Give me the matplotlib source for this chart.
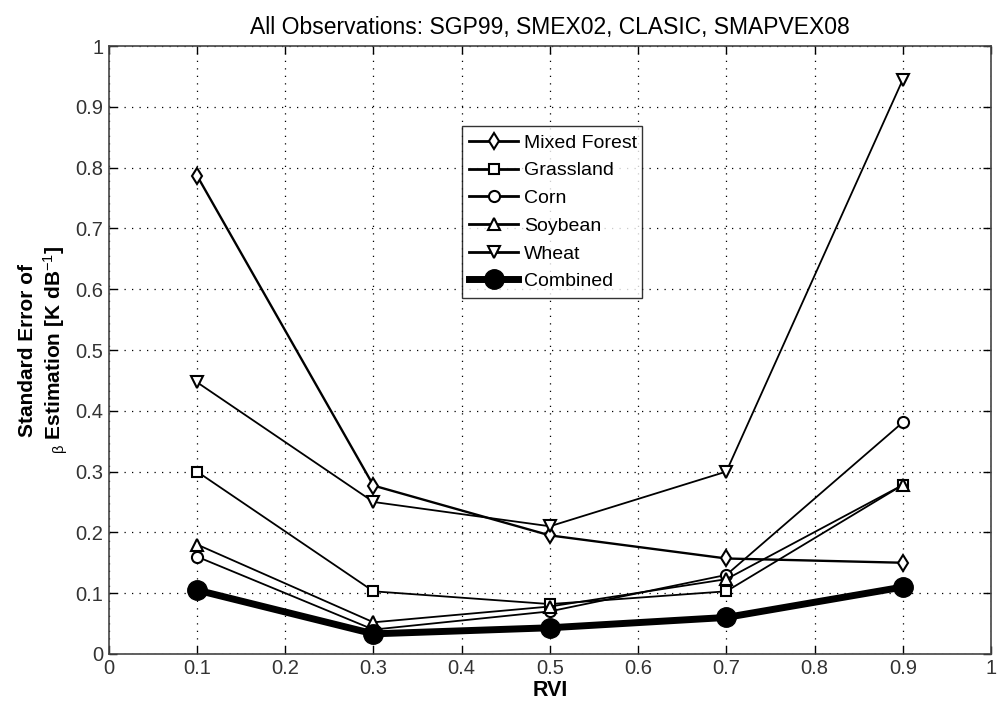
import numpy as np
import matplotlib.pyplot as plt

plt.rcParams['font.family'] = ['Liberation Sans', 'DejaVu Sans']
plt.rcParams['mathtext.fontset'] = 'custom'
plt.rcParams['mathtext.rm'] = 'Liberation Sans'
plt.rcParams['mathtext.it'] = 'Liberation Sans'
plt.rcParams['mathtext.bf'] = 'Liberation Sans:bold'

rvi = [0.1, 0.3, 0.5, 0.7, 0.9]
mixed_forest = [0.787, 0.277, 0.195, 0.157, 0.150]
grassland = [0.300, 0.103, 0.082, 0.103, 0.278]
corn = [0.160, 0.040, 0.070, 0.130, 0.381]
soybean = [0.180, 0.052, 0.078, 0.123, 0.278]
wheat = [0.447, 0.250, 0.210, 0.300, 0.945]
combined = [0.105, 0.033, 0.043, 0.060, 0.110]
ticks = ['0', '0.1', '0.2', '0.3', '0.4', '0.5', '0.6', '0.7', '0.8', '0.9', '1']

fig = plt.figure(figsize=(9.98, 7.1), dpi=100)
ax = fig.add_axes([0.109, 0.079, 0.884, 0.856])

mk = dict(color='k', markerfacecolor='white', markeredgecolor='k', markeredgewidth=1.5, markersize=8)
ax.plot(rvi, mixed_forest, marker='d', lw=1.7, label='Mixed Forest', **mk)
ax.plot(rvi, grassland, marker='s', lw=1.3, label='Grassland', **dict(mk, markersize=7))
ax.plot(rvi, corn, marker='o', lw=1.3, label='Corn', **mk)
ax.plot(rvi, soybean, marker='^', lw=1.3, label='Soybean', **dict(mk, markersize=9))
ax.plot(rvi, wheat, marker='v', lw=1.3, label='Wheat', **dict(mk, markersize=9))
ax.plot(rvi, combined, marker='o', lw=5, color='k', markerfacecolor='k',
        markeredgecolor='k', markersize=14, label='Combined')

ax.set_xlim(0, 1)
ax.set_ylim(0, 1)
ax.set_xticks(np.arange(0, 1.01, 0.1))
ax.set_yticks(np.arange(0, 1.01, 0.1))
ax.set_xticklabels(ticks)
ax.set_yticklabels(ticks)
ax.tick_params(direction='in', top=True, right=True, length=6, width=1,
               labelsize=14.5, labelcolor='#333333', pad=4)
ax.grid(True, linestyle=(0, (1, 5)), color='k', linewidth=0.9)
for s in ax.spines.values():
    s.set_linewidth(1.2)
    s.set_color('#444444')

ax.set_xlabel('RVI', fontsize=15.5, fontweight='bold', labelpad=1)
ax.set_ylabel('Standard Error of\n$_{\\beta}$ Estimation [K dB$^{-1}$]', fontsize=15,
              fontweight='bold', labelpad=4)
ax.set_title('All Observations: SGP99, SMEX02, CLASIC, SMAPVEX08', fontsize=16.5, pad=9)

leg = ax.legend(loc='lower left', bbox_to_anchor=(0.4, 0.5855, 0.204, 0.273), mode='expand',
                fontsize=14, frameon=True, fancybox=False, handlelength=2.5,
                handletextpad=0.3, borderpad=0.4, labelspacing=0.52, borderaxespad=0)
leg.get_frame().set_edgecolor('k')
leg.get_frame().set_linewidth(1.0)
for line in leg.get_lines()[:5]:
    line.set_linewidth(2)

fig.savefig('out.png', dpi=100)
